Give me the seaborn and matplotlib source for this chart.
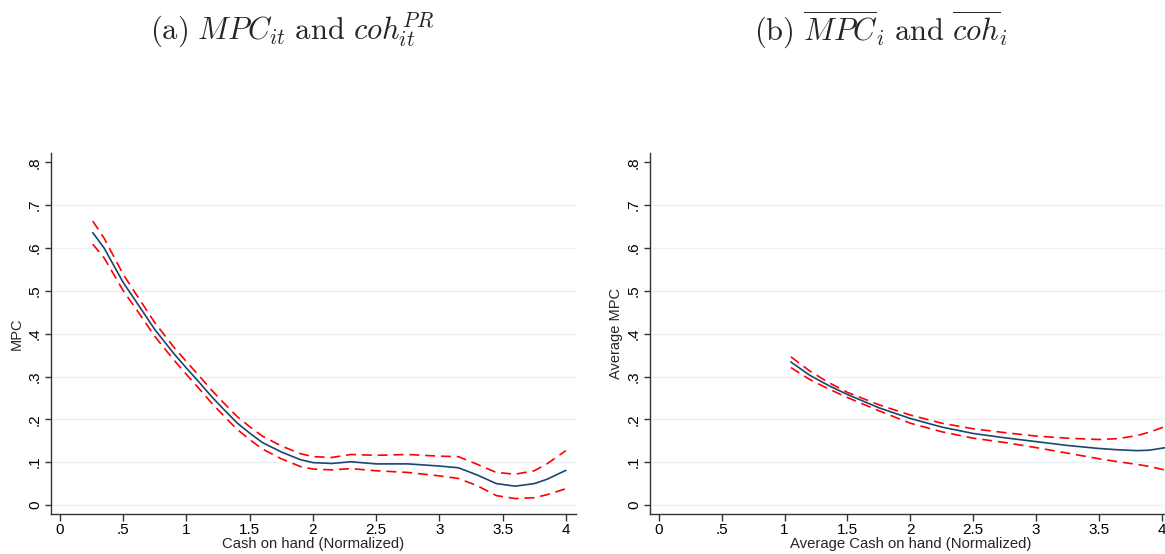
import numpy as np
import pandas as pd
import matplotlib
matplotlib.use("Agg")
import matplotlib.pyplot as plt
import seaborn as sns

# ---- data ----
coh_a = [0.26, 0.35, 0.5, 0.63, 0.75, 0.9, 1.0, 1.1, 1.2, 1.3, 1.4, 1.5, 1.6, 1.75, 1.9, 2.0, 2.15, 2.3, 2.5, 2.75, 3.0, 3.15, 3.3, 3.45, 3.6, 3.75, 3.85, 4.0]
mpc_a = [0.636, 0.600, 0.520, 0.463, 0.410, 0.354, 0.320, 0.287, 0.253, 0.222, 0.192, 0.168, 0.146, 0.124, 0.106, 0.099, 0.097, 0.101, 0.096, 0.096, 0.091, 0.087, 0.070, 0.050, 0.044, 0.050, 0.060, 0.081]
upp_a = [0.663, 0.623, 0.539, 0.480, 0.426, 0.369, 0.335, 0.302, 0.268, 0.237, 0.207, 0.183, 0.161, 0.138, 0.120, 0.113, 0.111, 0.118, 0.116, 0.118, 0.114, 0.113, 0.095, 0.076, 0.072, 0.080, 0.096, 0.127]
low_a = [0.609, 0.577, 0.501, 0.446, 0.394, 0.339, 0.305, 0.272, 0.238, 0.207, 0.177, 0.153, 0.131, 0.108, 0.090, 0.084, 0.082, 0.085, 0.080, 0.076, 0.068, 0.062, 0.045, 0.022, 0.015, 0.017, 0.024, 0.038]

coh_b = [1.05, 1.2, 1.35, 1.5, 1.75, 2.0, 2.25, 2.5, 2.75, 3.0, 3.25, 3.5, 3.65, 3.8, 3.9, 4.05]
mpc_b = [0.334, 0.303, 0.279, 0.258, 0.227, 0.202, 0.182, 0.167, 0.157, 0.148, 0.139, 0.132, 0.129, 0.127, 0.128, 0.135]
upp_b = [0.346, 0.313, 0.286, 0.263, 0.234, 0.210, 0.191, 0.178, 0.169, 0.161, 0.156, 0.153, 0.155, 0.162, 0.170, 0.186]
low_b = [0.321, 0.293, 0.271, 0.251, 0.220, 0.191, 0.171, 0.156, 0.146, 0.134, 0.121, 0.108, 0.101, 0.095, 0.090, 0.080]

yticks = [0, 0.1, 0.2, 0.3, 0.4, 0.5, 0.6, 0.7, 0.8]
ytick_labels = ["0", ".1", ".2", ".3", ".4", ".5", ".6", ".7", ".8"]
xticks = [0, 0.5, 1, 1.5, 2, 2.5, 3, 3.5, 4]
xtick_labels = ["0", ".5", "1", "1.5", "2", "2.5", "3", "3.5", "4"]

sns.set_style("white")
plt.rcParams["font.family"] = ["Liberation Sans", "DejaVu Sans"]
plt.rcParams["mathtext.fontset"] = "cm"

NAVY = "#1a476f"
RED = "#ff0000"
GRID = "#eaf2f3"
AX = "#333333"

fig = plt.figure(figsize=(11.65, 5.54), dpi=100)
W, H = 1165, 554

def make_axes(x0, x1, y0, y1):
    return fig.add_axes([x0 / W, (H - y1) / H, (x1 - x0) / W, (y1 - y0) / H])

axA = make_axes(51, 576, 153, 514)
axB = make_axes(650, 1172, 153, 514)

panels = [
    (axA, coh_a, mpc_a, upp_a, low_a, "Cash on hand (Normalized)", "MPC"),
    (axB, coh_b, mpc_b, upp_b, low_b, "Average Cash on hand (Normalized)", "Average MPC"),
]

for ax, x, m, u, l, xl, yl in panels:
    df = pd.DataFrame({"x": x, "mean": m, "upper": u, "lower": l})
    for yv in yticks[:-1]:
        ax.axhline(yv, color=GRID, lw=1.0, zorder=0)
    sns.lineplot(data=df, x="x", y="upper", ax=ax, color=RED, lw=1.2,
                 linestyle=(0, (6, 3.5)), zorder=3)
    sns.lineplot(data=df, x="x", y="lower", ax=ax, color=RED, lw=1.2,
                 linestyle=(0, (6, 3.5)), zorder=3)
    sns.lineplot(data=df, x="x", y="mean", ax=ax, color=NAVY, lw=1.2, zorder=4)
    ax.set_xlim(-0.07, 4.08)
    ax.set_ylim(-0.021, 0.822)
    ax.set_xticks(xticks)
    ax.set_xticklabels(xtick_labels, fontsize=11)
    ax.set_yticks(yticks)
    ax.set_yticklabels(ytick_labels, fontsize=11, rotation=90, va="center")
    ax.set_xlabel(xl, fontsize=10.7, labelpad=0)
    ax.set_ylabel(yl, fontsize=10.5, labelpad=3)
    ax.grid(False)
    for s in ["top", "right"]:
        ax.spines[s].set_visible(False)
    for s in ["left", "bottom"]:
        ax.spines[s].set_color(AX)
        ax.spines[s].set_linewidth(1.0)
    ax.tick_params(axis="x", direction="out", length=5, width=1.0,
                   color=AX, pad=1.5, labelcolor="black", bottom=True)
    ax.tick_params(axis="y", direction="out", length=4.5, width=1.0,
                   color=AX, pad=2, labelcolor="black", left=True)

fig.text(292 / W, 1 - 30 / H, r"$\mathrm{(a)}\ MPC_{it}\ \mathrm{and}\ coh_{it}^{PR}$",
         ha="center", va="center", fontsize=22)
fig.text(881 / W, 1 - 30 / H, r"$\mathrm{(b)}\ \overline{MPC}_{i}\ \mathrm{and}\ \overline{coh}_{i}$",
         ha="center", va="center", fontsize=22)

fig.savefig("out.png", dpi=100)
